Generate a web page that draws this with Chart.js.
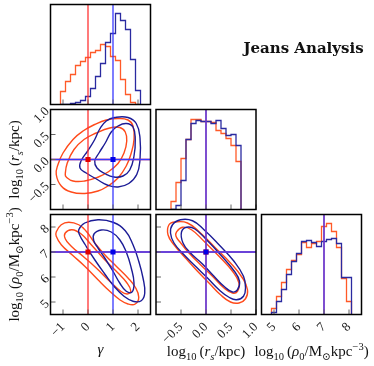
<!DOCTYPE html>
<html>
<head>
<meta charset="UTF-8">
<title>Jeans Analysis</title>
<script src="https://cdn.jsdelivr.net/npm/chart.js"></script>
<style>
  body { margin: 0; background: #fff; }
  #wrap { position: relative; width: 374px; height: 366px; }
  #wrap canvas { position: absolute; left: 0; top: 0; }
</style>
</head>
<body>
<div id="wrap"></div>
<script>
// ---- data ----
// parameters: gamma, log10(rs/kpc), log10(rho0/Msun kpc^-3)
const truthRed = [0, 0, 7];
const truthBlue = [1, 0, 7];

// 1D histograms (bin edges + relative counts)
const gammaEdges = [-1.1, -0.9, -0.7, -0.5, -0.3, -0.1, 0.1, 0.3, 0.5, 0.7, 0.9, 1.1, 1.3, 1.5, 1.7, 1.9, 2.1];
const gammaHistRed = [13, 23, 30, 39, 43, 47, 52, 54, 60, 58, 48, 44, 25, 10, 2, 0];
const gammaHistBlue = [0, 0, 1, 2, 4, 8, 16, 28, 41, 62, 71, 91, 84, 75, 45, 14];

const rsEdges = [-0.7, -0.6, -0.5, -0.4, -0.3, -0.2, -0.1, 0.0, 0.1, 0.2, 0.3, 0.4, 0.5, 0.6, 0.7];
const rsHistRed = [8, 27, 51, 70, 90, 90, 88, 88, 87, 79, 76, 71, 64, 48];
const rsHistBlue = [0, 4, 29, 70, 86, 89, 88, 88, 86, 89, 81, 74, 75, 64];

const rhoEdges = [4.9, 5.1, 5.3, 5.5, 5.7, 5.9, 6.1, 6.3, 6.5, 6.7, 6.9, 7.1, 7.3, 7.5, 7.7, 7.9, 8.1];
const rhoHistRed = [6, 18, 32, 45, 54, 60, 72, 67, 71, 73, 88, 91, 83, 67, 36, 13];
const rhoHistBlue = [2, 13, 25, 40, 53, 61, 73, 74, 72, 68, 73, 75, 76, 71, 37, 37];

// 2D contours (closed curves)
const gammaRsRedOuter = [[-1.27,-0.30],[-1.20,-0.10],[-1.00,0.13],[-0.60,0.40],[-0.20,0.57],[0.27,0.70],[0.73,0.79],[1.20,0.82],[1.60,0.79],[1.80,0.67],[1.84,0.40],[1.73,0.13],[1.53,-0.13],[1.20,-0.37],[0.80,-0.53],[0.40,-0.63],[-0.13,-0.68],[-0.67,-0.65],[-1.07,-0.53]];
const gammaRsRedInner = [[-0.91,-0.30],[-0.83,-0.07],[-0.56,0.20],[-0.16,0.40],[0.33,0.53],[0.87,0.63],[1.27,0.64],[1.49,0.55],[1.55,0.37],[1.44,0.13],[1.20,-0.08],[0.80,-0.25],[0.37,-0.36],[-0.13,-0.43],[-0.60,-0.43],[-0.87,-0.35]];
const gammaRsBlueOuter = [[0.73,0.77],[1.07,0.84],[1.60,0.84],[1.93,0.72],[2.08,0.43],[2.08,0.00],[1.95,-0.30],[1.63,-0.48],[1.20,-0.55],[0.77,-0.51],[0.37,-0.40],[-0.07,-0.27],[-0.32,-0.17],[-0.27,-0.02],[0.00,0.18],[0.27,0.40],[0.47,0.61]];
const gammaRsBlueInner = [[1.20,0.67],[1.53,0.72],[1.80,0.65],[1.89,0.40],[1.84,0.07],[1.67,-0.21],[1.40,-0.33],[1.04,-0.35],[0.67,-0.28],[0.36,-0.17],[0.27,-0.03],[0.44,0.13],[0.69,0.33],[0.93,0.55]];

const gammaRhoRedOuter = [[-1.27,7.80],[-1.07,8.09],[-0.77,8.19],[-0.37,8.09],[-0.07,7.83],[0.27,7.36],[0.67,6.89],[1.13,6.43],[1.60,5.96],[1.89,5.59],[2.03,5.19],[1.89,4.92],[1.60,4.92],[1.27,5.09],[0.87,5.43],[0.40,5.89],[-0.13,6.43],[-0.64,6.89],[-1.07,7.29],[-1.27,7.63]];
const gammaRhoRedInner = [[-0.91,7.76],[-0.64,7.89],[-0.27,7.72],[0.13,7.29],[0.67,6.69],[1.20,6.16],[1.53,5.80],[1.71,5.45],[1.57,5.32],[1.31,5.43],[0.87,5.83],[0.33,6.36],[-0.20,6.83],[-0.67,7.23],[-0.91,7.53]];
const gammaRhoBlueOuter = [[-0.37,7.89],[-0.13,8.16],[0.40,8.29],[1.00,8.19],[1.49,7.85],[1.80,7.29],[2.03,6.63],[2.20,5.96],[2.27,5.36],[2.13,5.05],[1.80,5.03],[1.44,5.23],[1.04,5.63],[0.67,6.12],[0.27,6.69],[-0.11,7.29],[-0.33,7.67]];
const gammaRhoBlueInner = [[0.24,7.72],[0.53,7.88],[0.93,7.80],[1.27,7.49],[1.53,7.00],[1.73,6.36],[1.84,5.76],[1.76,5.40],[1.53,5.43],[1.27,5.76],[1.00,6.23],[0.67,6.76],[0.40,7.16],[0.23,7.45]];

const rsRhoRedOuter = [[-0.74,8.09],[-0.61,8.20],[-0.37,8.16],[-0.11,7.76],[0.19,7.16],[0.49,6.56],[0.73,5.96],[0.83,5.49],[0.79,5.13],[0.66,4.96],[0.49,5.00],[0.29,5.29],[0.06,5.76],[-0.17,6.23],[-0.41,6.76],[-0.64,7.29],[-0.76,7.69]];
const rsRhoRedInner = [[-0.59,7.80],[-0.47,7.99],[-0.29,7.89],[-0.04,7.43],[0.26,6.83],[0.53,6.23],[0.66,5.76],[0.63,5.43],[0.53,5.36],[0.36,5.56],[0.13,6.03],[-0.11,6.49],[-0.34,6.96],[-0.52,7.40],[-0.60,7.63]];
const rsRhoBlueOuter = [[-0.67,8.09],[-0.51,8.29],[-0.27,8.25],[-0.04,7.89],[0.26,7.29],[0.56,6.63],[0.75,6.03],[0.79,5.59],[0.75,5.23],[0.61,5.09],[0.46,5.19],[0.26,5.49],[0.03,5.96],[-0.21,6.43],[-0.44,6.89],[-0.64,7.36],[-0.71,7.76]];
const rsRhoBlueInner = [[-0.49,7.80],[-0.39,7.99],[-0.23,7.93],[0.01,7.49],[0.29,6.89],[0.56,6.25],[0.67,5.83],[0.63,5.49],[0.53,5.40],[0.37,5.61],[0.16,6.03],[-0.07,6.52],[-0.31,6.96],[-0.46,7.36]];

// axes: tick labels
const gammaTicks = [-1, 0, 1, 2];
const rsTicks = [-0.5, 0.0, 0.5, 1.0];
const rhoTicks = [5, 6, 7, 8];
const histMax = 100;

// ---- layout / style ----
const W = 374, H = 366, SIZE = 100;
const XH = 45, YW = 50;   // room kept for tick labels below / left of each panel
const colX = [50.5, 156, 261.5];
const rowY = [4.5, 109.5, 214.5];
const FONT = '"Liberation Serif", "DejaVu Serif", serif';
const RED = '#ff4a1a', BLUE = '#1c1c96';
const HRED = '#ff5a28', HBLUE = '#2a2aa0';
const TRED = '#ff3434', TBLUE = '#3838ff';

const minus = s => s.replace('-', '\u2212');
const AX = {
  gamma: { range: [-1.5, 2.5], ticks: gammaTicks, fmt: v => minus(String(v)) },
  rs:    { range: [-1, 1],     ticks: rsTicks,    fmt: v => minus(v.toFixed(1)) },
  rho:   { range: [4.5, 8.5],  ticks: rhoTicks,   fmt: v => String(v) },
  hist:  { range: [0, histMax], ticks: [],        fmt: v => '' }
};

const rsLabel = [['log','r'],['10','sub'],['\u2009(','r'],['r','i'],['s','subi'],['/kpc)','r']];
const rhoLabel = [['log','r'],['10','sub'],['\u2009(','r'],['\u03c1','i'],['0','sub'],['/M','r'],['\u2299','sub'],['kpc','r'],['\u22123','sup'],[')','r']];
const gammaLabel = [['\u03b3','i']];

function drawRich(ctx, parts, x, y, size, rot) {
  const spec = {
    r: [1, 0, ''], i: [1, 0, 'italic '],
    sub: [0.7, 0.28, ''], subi: [0.7, 0.28, 'italic '], sup: [0.7, -0.42, '']
  };
  const font = p => spec[p[1]][2] + (size * spec[p[1]][0]).toFixed(1) + 'px ' + FONT;
  let total = 0;
  const widths = parts.map(p => { ctx.font = font(p); const w = ctx.measureText(p[0]).width; total += w; return w; });
  ctx.save();
  ctx.translate(x, y);
  ctx.rotate(rot || 0);
  ctx.fillStyle = '#111';
  ctx.textBaseline = 'alphabetic';
  ctx.textAlign = 'left';
  let cx = -total / 2;
  parts.forEach((p, k) => { ctx.font = font(p); ctx.fillText(p[0], cx, spec[p[1]][1] * size); cx += widths[k]; });
  ctx.restore();
}

Chart.register({
  id: 'corner',
  beforeDatasetsDraw(chart) {
    // close contour curves smoothly
    chart.getSortedVisibleDatasetMetas().forEach(m => {
      if (m._dataset.loop && m.dataset) {
        const line = m.dataset;
        line._loop = true;
        line._fullLoop = true;
        line._pointsUpdated = false;
        delete line._segments;
        delete line._path;
        line.updateControlPoints(chart.chartArea, 'x');
      }
    });
  },
  afterDraw(chart, args, opts) {
    const ctx = chart.ctx, a = chart.chartArea;
    ctx.save();
    ctx.strokeStyle = '#666';
    ctx.lineWidth = 1;
    const sx = chart.scales.x, sy = chart.scales.y;
    sx.ticks.forEach(t => {
      const px = sx.getPixelForValue(t.value);
      ctx.beginPath(); ctx.moveTo(px, a.bottom); ctx.lineTo(px, a.bottom - 5); ctx.stroke();
    });
    sy.ticks.forEach(t => {
      const py = sy.getPixelForValue(t.value);
      ctx.beginPath(); ctx.moveTo(a.left, py); ctx.lineTo(a.left + 5, py); ctx.stroke();
    });
    ctx.strokeStyle = '#000';
    ctx.lineWidth = 1.5;
    ctx.strokeRect(a.left, a.top, a.right - a.left, a.bottom - a.top);
    (opts.texts || []).forEach(t => drawRich(ctx, t.parts, t.x, t.y, t.size, t.rot));
    if (opts.title) {
      ctx.fillStyle = '#111';
      ctx.font = 'bold 15px "DejaVu Serif", serif';
      ctx.textAlign = 'center';
      ctx.textBaseline = 'alphabetic';
      ctx.fillText(opts.title.text, opts.title.x, opts.title.y);
    }
    ctx.restore();
  }
});

function axis(def, show, vertical) {
  return {
    type: 'linear', min: def.range[0], max: def.range[1],
    afterBuildTicks: s => { s.ticks = def.ticks.map(v => ({ value: v })); },
    afterFit: s => {
      if (vertical) s.width = YW; else s.height = XH;
      s.paddingLeft = s.paddingRight = s.paddingTop = s.paddingBottom = 0;
    },
    grid: { display: false, drawTicks: false },
    border: { display: false },
    ticks: {
      display: show, autoSkip: false, minRotation: 45, maxRotation: 45,
      padding: vertical ? 3 : 5, color: '#1a1a1a', font: { family: FONT, size: 13 },
      callback: v => def.fmt(v)
    }
  };
}

const pts = arr => arr.map(([x, y]) => ({ x, y }));
function steps(edges, counts) {
  const out = [{ x: edges[0], y: 0 }];
  counts.forEach((c, i) => { out.push({ x: edges[i], y: c }, { x: edges[i + 1], y: c }); });
  out.push({ x: edges[edges.length - 1], y: 0 });
  return out;
}
const lineSet = (data, color, width) => ({ data, showLine: true, borderColor: color, borderWidth: width, pointRadius: 0, tension: 0 });
const contour = (arr, color) => ({ data: pts(arr), showLine: true, loop: true, borderColor: color, borderWidth: 1.4, pointRadius: 0, tension: 0.45 });
const vline = (x, r, color) => lineSet([{ x, y: r[0] }, { x, y: r[1] }], color, 1.3);
const hline = (y, r, color) => lineSet([{ x: r[0], y }, { x: r[1], y }], color, 1.3);
const marker = (x, y, color) => ({ data: [{ x, y }], pointStyle: 'rect', pointRadius: 3.6, backgroundColor: color, borderColor: color, borderWidth: 0 });

function panel(row, col, xDef, yDef, showX, showY, layers, extra) {
  const c = document.createElement('canvas');
  c.width = W; c.height = H;
  document.getElementById('wrap').appendChild(c);
  const L = colX[col], T = rowY[row];
  // layers are listed bottom -> top; chart.js draws the first dataset on top
  return new Chart(c, {
    type: 'scatter',
    data: { datasets: layers.slice().reverse() },
    options: {
      responsive: false, animation: false, events: [],
      layout: { padding: { left: L - YW, top: T, right: W - L - SIZE, bottom: H - T - SIZE - XH } },
      plugins: { legend: { display: false }, tooltip: { enabled: false }, corner: extra || {} },
      scales: { x: axis(xDef, showX, false), y: axis(yDef, showY, true) }
    }
  });
}

const hr = [0, histMax];

// row 1: gamma histogram + title
panel(0, 0, AX.gamma, AX.hist, false, false, [
  lineSet(steps(gammaEdges, gammaHistRed), HRED, 1.3),
  lineSet(steps(gammaEdges, gammaHistBlue), HBLUE, 1.3),
  vline(truthRed[0], hr, TRED),
  vline(truthBlue[0], hr, TBLUE)
], { title: { text: 'Jeans Analysis', x: 303.5, y: 53 } });

// row 2
panel(1, 0, AX.gamma, AX.rs, false, true, [
  contour(gammaRsRedOuter, RED), contour(gammaRsRedInner, RED),
  contour(gammaRsBlueOuter, BLUE), contour(gammaRsBlueInner, BLUE),
  vline(truthRed[0], AX.rs.range, TRED), hline(truthRed[1], AX.gamma.range, TRED),
  vline(truthBlue[0], AX.rs.range, TBLUE), hline(truthBlue[1], AX.gamma.range, TBLUE),
  marker(truthRed[0], truthRed[1], '#e00000'), marker(truthBlue[0], truthBlue[1], '#0000e8')
], { texts: [{ parts: rsLabel, x: 19, y: 159.5, size: 15, rot: -Math.PI / 2 }] });

panel(1, 1, AX.rs, AX.hist, false, false, [
  lineSet(steps(rsEdges, rsHistRed), HRED, 1.3),
  lineSet(steps(rsEdges, rsHistBlue), HBLUE, 1.3),
  vline(truthRed[1], hr, TRED),
  vline(truthBlue[1], hr, TBLUE)
]);

// row 3
panel(2, 0, AX.gamma, AX.rho, true, true, [
  contour(gammaRhoRedOuter, RED), contour(gammaRhoRedInner, RED),
  contour(gammaRhoBlueOuter, BLUE), contour(gammaRhoBlueInner, BLUE),
  vline(truthRed[0], AX.rho.range, TRED), hline(truthRed[2], AX.gamma.range, TRED),
  vline(truthBlue[0], AX.rho.range, TBLUE), hline(truthBlue[2], AX.gamma.range, TBLUE),
  marker(truthRed[0], truthRed[2], '#e00000'), marker(truthBlue[0], truthBlue[2], '#0000e8')
], { texts: [
  { parts: rhoLabel, x: 19, y: 264.5, size: 15, rot: -Math.PI / 2 },
  { parts: gammaLabel, x: 100.5, y: 354, size: 15 }
] });

panel(2, 1, AX.rs, AX.rho, true, false, [
  contour(rsRhoRedOuter, RED), contour(rsRhoRedInner, RED),
  contour(rsRhoBlueOuter, BLUE), contour(rsRhoBlueInner, BLUE),
  vline(truthRed[1], AX.rho.range, TRED), hline(truthRed[2], AX.rs.range, TRED),
  vline(truthBlue[1], AX.rho.range, TBLUE), hline(truthBlue[2], AX.rs.range, TBLUE),
  marker(truthRed[1], truthRed[2], '#e00000'), marker(truthBlue[1], truthBlue[2], '#0000e8')
], { texts: [{ parts: rsLabel, x: 206, y: 356, size: 15 }] });

panel(2, 2, AX.rho, AX.hist, true, false, [
  lineSet(steps(rhoEdges, rhoHistRed), HRED, 1.3),
  lineSet(steps(rhoEdges, rhoHistBlue), HBLUE, 1.3),
  vline(truthRed[2], hr, TRED),
  vline(truthBlue[2], hr, TBLUE)
], { texts: [{ parts: rhoLabel, x: 311.5, y: 356, size: 15 }] });
</script>
</body>
</html>
